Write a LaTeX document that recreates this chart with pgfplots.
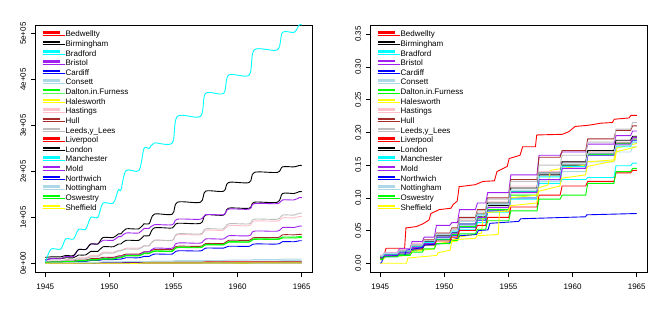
\documentclass[border=0pt]{standalone}
\usepackage{fontspec}
\setmainfont{Liberation Sans}
\usepackage{pgfplots}
\pgfplotsset{compat=1.18}
\usepackage{pgfplotstable}
\definecolor{rred}{HTML}{FF0000}
\definecolor{rcyan}{HTML}{00FFFF}
\definecolor{rpurple}{HTML}{A020F0}
\definecolor{rblue}{HTML}{0000FF}
\definecolor{rlightblue}{HTML}{ADD8E6}
\definecolor{rgreen}{HTML}{00FF00}
\definecolor{ryellow}{HTML}{FFFF00}
\definecolor{rpink}{HTML}{FFC0CB}
\definecolor{rbrown}{HTML}{A52A2A}
\definecolor{rgray}{HTML}{BEBEBE}

% left panel: cumulative counts (units of 1e5)
\pgfplotstableread{
x       Man  Lon  Bir  Bri  Lee  Has  Mol  Hul  Osw  Dal  Car  Not  Con  Liv  Bra  Bed  Nor  She  Hal
1945.00 0.06 0.13 0.08 0.06 0.03 0.03 0.02 0.02 0.02 0.02 0.01 0.00 0.00 0.00 0.00 0.00 0.00 0.00 0.00
1945.05 0.06 0.13 0.08 0.06 0.03 0.03 0.02 0.02 0.02 0.02 0.01 0.00 0.00 0.00 0.00 0.00 0.00 0.00 0.00
1945.45 0.31 0.14 0.10 0.10 0.05 0.05 0.03 0.03 0.03 0.03 0.02 0.01 0.00 0.00 0.00 0.00 0.00 0.00 0.00
1946.20 0.31 0.14 0.10 0.10 0.05 0.05 0.03 0.03 0.03 0.03 0.02 0.01 0.00 0.00 0.00 0.00 0.00 0.00 0.00
1946.60 0.53 0.17 0.12 0.15 0.07 0.08 0.04 0.05 0.04 0.04 0.03 0.01 0.01 0.00 0.00 0.00 0.00 0.00 0.00
1947.20 0.53 0.17 0.12 0.15 0.07 0.08 0.04 0.05 0.04 0.04 0.03 0.01 0.01 0.00 0.00 0.00 0.00 0.00 0.00
1947.60 0.74 0.30 0.18 0.30 0.10 0.12 0.06 0.07 0.06 0.05 0.04 0.02 0.01 0.01 0.01 0.00 0.00 0.00 0.00
1948.15 0.74 0.30 0.18 0.30 0.10 0.12 0.06 0.07 0.06 0.05 0.04 0.02 0.01 0.01 0.01 0.00 0.00 0.00 0.00
1948.55 1.00 0.42 0.26 0.42 0.14 0.17 0.08 0.10 0.08 0.07 0.06 0.02 0.01 0.01 0.01 0.01 0.00 0.00 0.00
1949.10 1.00 0.42 0.26 0.42 0.14 0.17 0.08 0.10 0.08 0.07 0.06 0.02 0.01 0.01 0.01 0.01 0.00 0.00 0.00
1949.50 1.31 0.56 0.36 0.50 0.22 0.24 0.11 0.13 0.10 0.09 0.08 0.03 0.02 0.01 0.01 0.01 0.01 0.00 0.00
1950.30 1.31 0.56 0.36 0.50 0.22 0.24 0.11 0.13 0.10 0.09 0.08 0.03 0.02 0.01 0.01 0.01 0.01 0.00 0.00
1950.70 1.60 0.64 0.42 0.58 0.27 0.28 0.14 0.16 0.13 0.12 0.09 0.03 0.02 0.01 0.01 0.01 0.01 0.00 0.00
1950.90 1.60 0.64 0.42 0.58 0.27 0.28 0.14 0.16 0.13 0.12 0.09 0.03 0.02 0.01 0.01 0.01 0.01 0.00 0.00
1951.30 2.02 0.75 0.50 0.66 0.31 0.33 0.18 0.20 0.17 0.16 0.12 0.04 0.02 0.02 0.01 0.01 0.01 0.00 0.00
1952.30 2.02 0.75 0.50 0.66 0.31 0.33 0.18 0.20 0.17 0.16 0.12 0.04 0.02 0.02 0.01 0.01 0.01 0.00 0.00
1952.70 2.50 0.86 0.60 0.76 0.38 0.38 0.25 0.25 0.22 0.21 0.15 0.04 0.03 0.02 0.02 0.01 0.01 0.01 0.00
1953.10 2.50 0.86 0.60 0.76 0.38 0.38 0.25 0.25 0.22 0.21 0.15 0.04 0.03 0.02 0.02 0.01 0.01 0.01 0.00
1953.50 2.62 1.07 0.77 0.84 0.50 0.50 0.33 0.30 0.27 0.26 0.20 0.05 0.03 0.02 0.02 0.01 0.01 0.01 0.00
1954.90 2.62 1.07 0.77 0.84 0.50 0.50 0.33 0.30 0.27 0.26 0.20 0.05 0.03 0.02 0.02 0.01 0.01 0.01 0.00
1955.30 3.20 1.33 0.87 0.96 0.64 0.62 0.44 0.37 0.35 0.34 0.27 0.06 0.04 0.02 0.02 0.01 0.01 0.01 0.00
1957.10 3.20 1.33 0.87 0.96 0.64 0.62 0.44 0.37 0.35 0.34 0.27 0.06 0.04 0.02 0.02 0.01 0.01 0.01 0.00
1957.50 3.70 1.57 1.05 1.06 0.75 0.72 0.53 0.43 0.41 0.40 0.33 0.06 0.04 0.03 0.02 0.02 0.01 0.01 0.00
1958.90 3.70 1.57 1.05 1.06 0.75 0.72 0.53 0.43 0.41 0.40 0.33 0.06 0.04 0.03 0.02 0.02 0.01 0.01 0.00
1959.30 4.10 1.76 1.20 1.18 0.86 0.82 0.60 0.50 0.47 0.46 0.37 0.07 0.05 0.03 0.02 0.02 0.01 0.01 0.00
1960.90 4.10 1.76 1.20 1.18 0.86 0.82 0.60 0.50 0.47 0.46 0.37 0.07 0.05 0.03 0.02 0.02 0.01 0.01 0.00
1961.30 4.65 1.98 1.33 1.30 0.96 0.92 0.70 0.56 0.53 0.52 0.42 0.08 0.05 0.03 0.03 0.02 0.01 0.01 0.01
1963.10 4.65 1.98 1.33 1.30 0.96 0.92 0.70 0.56 0.53 0.52 0.42 0.08 0.05 0.03 0.03 0.02 0.01 0.01 0.01
1963.50 5.03 2.10 1.52 1.38 1.05 0.99 0.78 0.62 0.57 0.55 0.47 0.09 0.06 0.03 0.03 0.02 0.01 0.01 0.01
1964.40 5.03 2.10 1.52 1.38 1.05 0.99 0.78 0.62 0.57 0.55 0.47 0.09 0.06 0.03 0.03 0.02 0.01 0.01 0.01
1964.80 5.19 2.13 1.56 1.43 1.09 1.02 0.81 0.63 0.58 0.56 0.49 0.09 0.06 0.03 0.03 0.02 0.01 0.01 0.01
1965.00 5.19 2.13 1.56 1.43 1.09 1.02 0.81 0.63 0.58 0.56 0.49 0.09 0.06 0.03 0.03 0.02 0.01 0.01 0.01
}\Ltab

% right panel: cumulative proportions
\pgfplotstableread{
x       Lee   Hul   Bri   Mol   Lon   Bir   Car   Dal   Has   Man   Con   Not   Bra   Liv   Osw
1945.00 0.010 0.010 0.012 0.008 0.010 0.009 0.006 0.007 0.012 0.010 0.010 0.011 0.010 0.008 0.006
1945.17 0.010 0.010 0.012 0.008 0.010 0.009 0.006 0.007 0.012 0.010 0.010 0.011 0.010 0.008 0.006
1945.33 0.014 0.014 0.016 0.012 0.013 0.012 0.010 0.010 0.016 0.013 0.013 0.015 0.013 0.012 0.010
1946.32 0.014 0.014 0.016 0.012 0.013 0.012 0.010 0.010 0.016 0.013 0.013 0.015 0.013 0.012 0.010
1946.48 0.018 0.019 0.022 0.016 0.017 0.016 0.014 0.013 0.020 0.017 0.016 0.019 0.016 0.016 0.012
1947.32 0.018 0.019 0.022 0.016 0.017 0.016 0.014 0.013 0.020 0.017 0.016 0.019 0.016 0.016 0.012
1947.48 0.028 0.028 0.033 0.024 0.026 0.024 0.020 0.020 0.030 0.025 0.024 0.028 0.023 0.022 0.017
1948.27 0.028 0.028 0.033 0.024 0.026 0.024 0.020 0.020 0.030 0.025 0.024 0.028 0.023 0.022 0.017
1948.43 0.035 0.036 0.040 0.030 0.033 0.031 0.028 0.028 0.036 0.032 0.030 0.034 0.030 0.028 0.022
1949.22 0.035 0.036 0.040 0.030 0.033 0.031 0.028 0.028 0.036 0.032 0.030 0.034 0.030 0.028 0.022
1949.38 0.045 0.046 0.058 0.040 0.043 0.040 0.036 0.036 0.046 0.040 0.038 0.044 0.036 0.034 0.030
1950.42 0.045 0.046 0.058 0.040 0.043 0.040 0.036 0.036 0.046 0.040 0.038 0.044 0.036 0.034 0.030
1950.58 0.052 0.054 0.062 0.046 0.050 0.047 0.042 0.044 0.052 0.048 0.045 0.050 0.042 0.040 0.035
1951.02 0.052 0.054 0.062 0.046 0.050 0.047 0.042 0.044 0.052 0.048 0.045 0.050 0.042 0.040 0.035
1951.18 0.068 0.070 0.082 0.060 0.064 0.060 0.055 0.056 0.066 0.060 0.058 0.064 0.052 0.050 0.045
1952.42 0.068 0.070 0.082 0.060 0.064 0.060 0.055 0.056 0.066 0.060 0.058 0.064 0.052 0.050 0.045
1952.58 0.080 0.082 0.092 0.070 0.075 0.071 0.066 0.068 0.078 0.074 0.068 0.074 0.062 0.058 0.052
1953.22 0.080 0.082 0.092 0.070 0.075 0.071 0.066 0.068 0.078 0.074 0.068 0.074 0.062 0.058 0.052
1953.38 0.098 0.100 0.108 0.085 0.092 0.088 0.080 0.082 0.094 0.090 0.082 0.090 0.078 0.070 0.065
1955.02 0.098 0.100 0.108 0.085 0.092 0.088 0.080 0.082 0.094 0.090 0.082 0.090 0.078 0.070 0.065
1955.18 0.125 0.128 0.135 0.108 0.115 0.110 0.100 0.104 0.118 0.110 0.100 0.112 0.098 0.086 0.080
1957.22 0.125 0.128 0.135 0.108 0.115 0.110 0.100 0.104 0.118 0.110 0.100 0.112 0.098 0.086 0.080
1957.38 0.150 0.162 0.165 0.128 0.138 0.135 0.125 0.128 0.140 0.132 0.125 0.138 0.122 0.104 0.098
1959.02 0.150 0.162 0.165 0.128 0.138 0.135 0.125 0.128 0.140 0.132 0.125 0.138 0.122 0.104 0.098
1959.18 0.165 0.172 0.170 0.145 0.155 0.150 0.145 0.148 0.155 0.148 0.140 0.152 0.128 0.118 0.104
1961.02 0.165 0.172 0.170 0.145 0.155 0.150 0.145 0.148 0.155 0.148 0.140 0.152 0.128 0.118 0.104
1961.18 0.185 0.190 0.182 0.165 0.172 0.168 0.165 0.166 0.170 0.165 0.155 0.168 0.131 0.125 0.122
1963.22 0.185 0.190 0.182 0.165 0.172 0.168 0.165 0.166 0.170 0.165 0.155 0.168 0.131 0.125 0.122
1963.38 0.205 0.203 0.195 0.182 0.188 0.184 0.180 0.183 0.185 0.178 0.170 0.180 0.149 0.138 0.140
1964.52 0.205 0.203 0.195 0.182 0.188 0.184 0.180 0.183 0.185 0.178 0.170 0.180 0.149 0.138 0.140
1964.68 0.215 0.210 0.202 0.192 0.194 0.190 0.188 0.190 0.190 0.185 0.178 0.185 0.153 0.142 0.145
1965.00 0.215 0.210 0.202 0.192 0.194 0.190 0.188 0.190 0.190 0.185 0.178 0.185 0.153 0.142 0.145
}\Rtab

\pgfplotsset{
  rpanel/.style={
    scale only axis, width=277pt, height=247.7pt, anchor=south west,
    xmin=1944.2, xmax=1965.8,
    axis line style={line width=0.7pt},
    tick align=outside, major tick length=4pt,
    every tick/.style={black, line width=0.6pt},
    xtick pos=left, ytick pos=left,
    xtick={1945,1950,1955,1960,1965},
    xticklabels={1945,1950,1955,1960,1965},
    xticklabel style={font=\fontsize{8}{9}\selectfont, yshift=-7pt, inner sep=0pt, text height=5.8pt, text depth=0pt},
    yticklabel style={font=\fontsize{8}{9}\selectfont, xshift=-5pt, rotate=90, anchor=south, inner sep=0pt, text height=5.8pt, text depth=0pt},
    every axis plot/.append style={line width=0.9pt},
    legend cell align=left,
    legend image code/.code={\draw[##1, line width=2.4pt] (0pt,2.8pt) -- (16.6pt,2.8pt); \path (0pt,0pt) rectangle (22.3pt,0pt);},
    legend style={draw=none, fill=none, inner sep=0pt, outer sep=0pt,
      at={(0,1)}, anchor=north west, xshift=6.7pt, yshift=-5.4pt,
      font=\fontsize{8}{9.6}\selectfont, row sep=0pt, column sep=0pt,
      nodes={inner sep=0pt, text height=6.4pt, text depth=3.23pt}},
  }
}

\begin{document}
\begin{tikzpicture}
\path[use as bounding box] (0pt,0pt) rectangle (671pt,315pt);

\begin{axis}[rpanel, at={(35pt,42.3pt)},
  ymin=-0.205, ymax=5.19,
  ytick={0,1,2,3,4,5},
  yticklabels={0e+00,1e+05,2e+05,3e+05,4e+05,5e+05}]
\addplot[rred, smooth] table[x=x,y=Bed]{\Ltab}; \addlegendentry{Bedwellty}
\addplot[black, smooth] table[x=x,y=Bir]{\Ltab}; \addlegendentry{Birmingham}
\addplot[rcyan, smooth] table[x=x,y=Bra]{\Ltab}; \addlegendentry{Bradford}
\addplot[rpurple, smooth] table[x=x,y=Bri]{\Ltab}; \addlegendentry{Bristol}
\addplot[rblue, smooth] table[x=x,y=Car]{\Ltab}; \addlegendentry{Cardiff}
\addplot[rlightblue, smooth] table[x=x,y=Con]{\Ltab}; \addlegendentry{Consett}
\addplot[rgreen, smooth] table[x=x,y=Dal]{\Ltab}; \addlegendentry{Dalton.in.Furness}
\addplot[ryellow, smooth] table[x=x,y=Hal]{\Ltab}; \addlegendentry{Halesworth}
\addplot[rpink, smooth] table[x=x,y=Has]{\Ltab}; \addlegendentry{Hastings}
\addplot[rbrown, smooth] table[x=x,y=Hul]{\Ltab}; \addlegendentry{Hull}
\addplot[rgray, smooth] table[x=x,y=Lee]{\Ltab}; \addlegendentry{Leeds,y\_Lees}
\addplot[rred, smooth] table[x=x,y=Liv]{\Ltab}; \addlegendentry{Liverpool}
\addplot[black, smooth] table[x=x,y=Lon]{\Ltab}; \addlegendentry{London}
\addplot[rcyan, smooth] table[x=x,y=Man]{\Ltab}; \addlegendentry{Manchester}
\addplot[rpurple, smooth] table[x=x,y=Mol]{\Ltab}; \addlegendentry{Mold}
\addplot[rblue, smooth] table[x=x,y=Nor]{\Ltab}; \addlegendentry{Northwich}
\addplot[rlightblue, smooth] table[x=x,y=Not]{\Ltab}; \addlegendentry{Nottingham}
\addplot[rgreen, smooth] table[x=x,y=Osw]{\Ltab}; \addlegendentry{Oswestry}
\addplot[ryellow, smooth] table[x=x,y=She]{\Ltab}; \addlegendentry{Sheffield}
\end{axis}

\begin{axis}[rpanel, at={(370pt,42.3pt)},
  ymin=-0.0144, ymax=0.364,
  ytick={0,0.05,0.10,0.15,0.20,0.25,0.30,0.35},
  yticklabels={0.00,0.05,0.10,0.15,0.20,0.25,0.30,0.35}]
\addplot[rred] coordinates {(1945.0,0.008)(1945.3,0.012)(1945.45,0.023)(1946.9,0.023)(1947.0,0.054)(1947.8,0.056)(1948.3,0.060)(1948.8,0.066)(1948.95,0.076)(1949.6,0.082)(1950.5,0.084)(1950.7,0.09)(1951.0,0.095)(1951.15,0.117)(1952.4,0.12)(1953.0,0.125)(1953.9,0.126)(1954.1,0.14)(1954.9,0.148)(1955.05,0.160)(1955.9,0.165)(1956.1,0.178)(1957.1,0.178)(1957.2,0.196)(1959.2,0.197)(1959.7,0.201)(1960.2,0.209)(1961.3,0.211)(1962.2,0.214)(1963.1,0.215)(1963.25,0.220)(1964.4,0.222)(1964.55,0.226)(1965,0.226)}; \addlegendentry{Bedwellty}
\addplot[black] table[x=x,y=Bir]{\Rtab}; \addlegendentry{Birmingham}
\addplot[rcyan] table[x=x,y=Bra]{\Rtab}; \addlegendentry{Bradford}
\addplot[rpurple] table[x=x,y=Bri]{\Rtab}; \addlegendentry{Bristol}
\addplot[rblue] table[x=x,y=Car]{\Rtab}; \addlegendentry{Cardiff}
\addplot[rlightblue] table[x=x,y=Con]{\Rtab}; \addlegendentry{Consett}
\addplot[rgreen] table[x=x,y=Dal]{\Rtab}; \addlegendentry{Dalton.in.Furness}
\addplot[ryellow] coordinates {(1945,0.005)(1945.25,0.006)(1945.4,0.01)(1947.3,0.012)(1947.45,0.018)(1949.2,0.022)(1949.35,0.03)(1951.0,0.034)(1951.15,0.04)(1952.9,0.046)(1953.05,0.077)(1955.0,0.08)(1955.15,0.1)(1957.2,0.104)(1957.35,0.115)(1958.1,0.12)(1958.25,0.142)(1961.0,0.15)(1961.15,0.155)(1963.3,0.158)(1963.45,0.176)(1965,0.183)}; \addlegendentry{Halesworth}
\addplot[rpink] table[x=x,y=Has]{\Rtab}; \addlegendentry{Hastings}
\addplot[rbrown] table[x=x,y=Hul]{\Rtab}; \addlegendentry{Hull}
\addplot[rgray] table[x=x,y=Lee]{\Rtab}; \addlegendentry{Leeds,y\_Lees}
\addplot[rred] table[x=x,y=Liv]{\Rtab}; \addlegendentry{Liverpool}
\addplot[black] table[x=x,y=Lon]{\Rtab}; \addlegendentry{London}
\addplot[rcyan] table[x=x,y=Man]{\Rtab}; \addlegendentry{Manchester}
\addplot[rpurple] table[x=x,y=Mol]{\Rtab}; \addlegendentry{Mold}
\addplot[rblue] coordinates {(1945,0)(1945.1,0.001)(1945.25,0.01)(1946.9,0.012)(1947.05,0.02)(1948.3,0.024)(1948.45,0.028)(1950.4,0.031)(1950.55,0.036)(1951.05,0.038)(1951.2,0.042)(1952.5,0.044)(1952.65,0.05)(1953.4,0.051)(1953.55,0.061)(1955.8,0.064)(1955.95,0.068)(1961.0,0.071)(1961.1,0.074)(1965,0.076)}; \addlegendentry{Northwich}
\addplot[rlightblue] table[x=x,y=Not]{\Rtab}; \addlegendentry{Nottingham}
\addplot[rgreen] table[x=x,y=Osw]{\Rtab}; \addlegendentry{Oswestry}
\addplot[ryellow] coordinates {(1945,0)(1947.05,0)(1947.15,0.008)(1949.4,0.012)(1949.5,0.016)(1950.45,0.02)(1950.6,0.036)(1952.4,0.038)(1952.55,0.042)(1954.2,0.044)(1954.3,0.079)(1955.0,0.08)(1955.15,0.088)(1957.2,0.092)(1957.35,0.11)(1959.0,0.118)(1959.15,0.13)(1961.0,0.135)(1961.15,0.148)(1963.2,0.156)(1963.35,0.17)(1965,0.178)}; \addlegendentry{Sheffield}
\end{axis}
\end{tikzpicture}
\end{document}
